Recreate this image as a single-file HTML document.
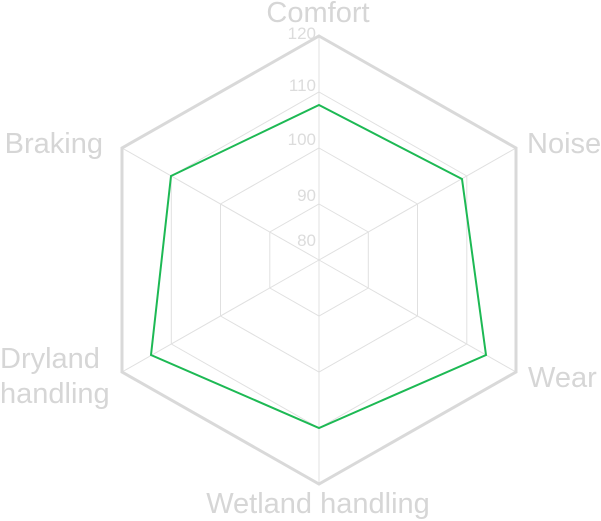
<!DOCTYPE html>
<html><head><style>body{margin:0;background:#fff}svg{display:block}</style></head><body>
<svg width="601" height="521" xmlns="http://www.w3.org/2000/svg" font-family="Liberation Sans, sans-serif">
<g fill="none" stroke="#e0e0e0" stroke-width="1">
<polygon points="319,92 466.8,176 466.8,344 319,428 171.3,344 171.3,176"/>
<polygon points="319,148 417.5,204 417.5,316 319,372 220.5,316 220.5,204"/>
<polygon points="319,204 368.3,232 368.3,288 319,316 269.8,288 269.8,232"/>
<line x1="319" y1="260" x2="319" y2="36"/><line x1="319" y1="260" x2="516" y2="148"/>
<line x1="319" y1="260" x2="516" y2="372"/><line x1="319" y1="260" x2="319" y2="484"/>
<line x1="319" y1="260" x2="122" y2="372"/><line x1="319" y1="260" x2="122" y2="148"/>
</g>
<polygon points="319,36 516,148 516,372 319,484 122,372 122,148" fill="none" stroke="#d9d9d9" stroke-width="3"/>
<polygon points="319,105 462,179 486,355 319,428 151,355 171,176" fill="none" stroke="#1db954" stroke-width="2"/>
<g fill="#dcdcdc" font-size="17" text-anchor="end">
<text x="316" y="39">120</text><text x="316" y="91">110</text><text x="316" y="145">100</text><text x="316" y="201">90</text><text x="316" y="246">80</text>
</g>
<g fill="#d6d6d6" font-size="29">
<text x="318" y="22" text-anchor="middle">Comfort</text>
<text x="527" y="153">Noise</text>
<text x="528" y="387">Wear</text>
<text x="318" y="513" text-anchor="middle">Wetland handling</text>
<text x="103" y="153" text-anchor="end">Braking</text>
<text x="0" y="368">Dryland</text>
<text x="0" y="403">handling</text>
</g>
</svg>
</body></html>
